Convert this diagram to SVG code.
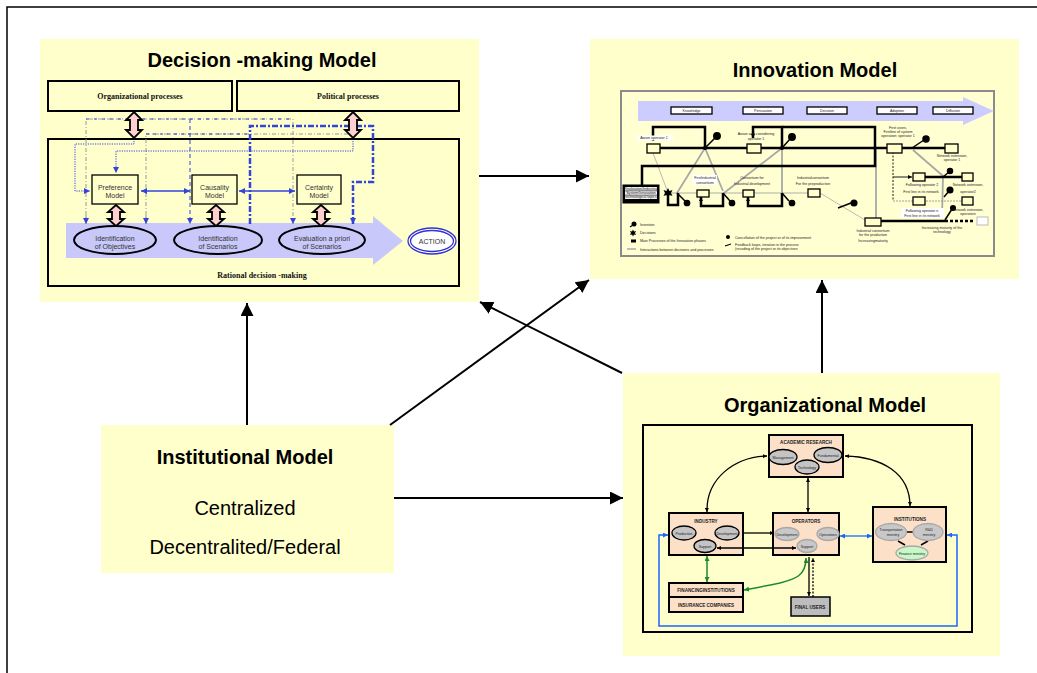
<svg xmlns="http://www.w3.org/2000/svg" width="1037" height="673" viewBox="0 0 1037 673">
<defs>
<style>
.yellow{fill:#ffffcc}
.frame{fill:#ffffcc;stroke:#000;stroke-width:2}
.title{font-family:"Liberation Sans",Arial,sans-serif;font-weight:bold;font-size:20px;text-anchor:middle;fill:#000}
.big{font-family:"Liberation Sans",Arial,sans-serif;font-size:20px;text-anchor:middle;fill:#000}
.serif{font-family:"Liberation Serif","Times New Roman",serif;font-weight:bold;font-size:8px;text-anchor:middle;fill:#111}
.sm{font-family:"Liberation Sans",Arial,sans-serif;font-size:7px;text-anchor:middle;fill:#333}
.tiny{font-family:"Liberation Sans",Arial,sans-serif;font-size:3.6px;text-anchor:middle;fill:#222}
.tinyl{font-family:"Liberation Sans",Arial,sans-serif;font-size:3.6px;fill:#222}
.ob{font-family:"Liberation Sans",Arial,sans-serif;font-weight:bold;font-size:4.6px;text-anchor:middle;fill:#222}
.pink{fill:#ffd0d0;stroke:#000;stroke-width:1.8}
.conn{fill:none;stroke:#000;stroke-width:2}
.pbox{fill:#fde0c8;stroke:#000;stroke-width:2}
.gell{fill:#c4c4c4;stroke:#000;stroke-width:1.3}
.lell{fill:#c8c8c8;stroke:#a8a8a8;stroke-width:1.3}
.ibox{fill:#ffffcc;stroke:#000;stroke-width:1.3}
.thick{fill:none;stroke:#000;stroke-width:2.5}
.gl{fill:none;stroke:#a8a8a8;stroke-width:1.8}
</style>
<marker id="ah" viewBox="0 0 10 10" refX="10" refY="5" markerWidth="13" markerHeight="13" markerUnits="userSpaceOnUse" orient="auto-start-reverse"><path d="M0,0 L10,5 L0,10 z" fill="#000"/></marker>
<marker id="sa" viewBox="0 0 10 10" refX="10" refY="5" markerWidth="4" markerHeight="4" markerUnits="userSpaceOnUse" orient="auto-start-reverse"><path d="M0,0 L10,5 L0,10 z" fill="#000"/></marker>
<marker id="sb" viewBox="0 0 10 10" refX="10" refY="5" markerWidth="6" markerHeight="6" markerUnits="userSpaceOnUse" orient="auto-start-reverse"><path d="M0,0 L10,5 L0,10 z" fill="#3344dd"/></marker>
<marker id="sbl" viewBox="0 0 10 10" refX="10" refY="5" markerWidth="5" markerHeight="5" markerUnits="userSpaceOnUse" orient="auto-start-reverse"><path d="M0,0 L10,5 L0,10 z" fill="#1a66ff"/></marker>
<marker id="sg" viewBox="0 0 10 10" refX="10" refY="5" markerWidth="5" markerHeight="5" markerUnits="userSpaceOnUse" orient="auto-start-reverse"><path d="M0,0 L10,5 L0,10 z" fill="#1a8a2a"/></marker>
</defs>
<rect width="1037" height="673" fill="#fff"/>
<path d="M7,673 V7 H1037" fill="none" stroke="#000" stroke-width="1.5"/>

<g id="decision-model">
<rect x="40" y="39" width="439" height="263" class="yellow"/>
<text x="262" y="67" class="title">Decision -making Model</text>
<rect x="48" y="81" width="184" height="30" class="frame"/>
<text x="140" y="99" class="serif">Organizational processes</text>
<rect x="237" y="81" width="222" height="30" class="frame"/>
<text x="348" y="99" class="serif">Political processes</text>
<rect x="48" y="139" width="411" height="147" class="frame"/>
<path d="M66,223 H373 V216 L403,241 L373,265 V258 H66 Z" fill="#c8c8fa"/>
<g fill="none">
<path d="M86,224 V119 H293 V224" stroke="#999" stroke-width="1" stroke-dasharray="4,2,1,2" marker-end="url(#sb)"/>
<path d="M86,119 H293" stroke="#3344dd" stroke-width="1" stroke-dasharray="3,5"/>
<path d="M190,119 V224" stroke="#3344dd" stroke-width="1" stroke-dasharray="4,3" marker-end="url(#sb)"/>
<path d="M146,224 V134 H352" stroke="#999" stroke-width="1" stroke-dasharray="4,2,1,2"/>
<path d="M146,134 H250" stroke="#3344dd" stroke-width="1" stroke-dasharray="3,4"/>
<path d="M146,215 V224" stroke="#999" stroke-width="1" marker-end="url(#sb)"/>
<path d="M86,215 V224" stroke="#999" stroke-width="1" marker-end="url(#sb)"/>
<path d="M250,224 V126 H373 V182 H353 V224" stroke="#3344dd" stroke-width="2.5" stroke-dasharray="6,2,2,2" marker-end="url(#sb)"/>
<path d="M134,141 V144 H75 V191 H90" stroke="#3344dd" stroke-width="1" stroke-dasharray="1.2,1.2" marker-end="url(#sb)"/>
<path d="M353,141 V151 H116 V173" stroke="#3344dd" stroke-width="1" stroke-dasharray="1.2,1.2" marker-end="url(#sb)"/>
<path d="M141,191 H190" stroke="#3344dd" stroke-width="1.6" marker-start="url(#sb)" marker-end="url(#sb)"/>
<path d="M239,191 H295" stroke="#3344dd" stroke-width="1.6" marker-start="url(#sb)" marker-end="url(#sb)"/>
</g>
<path class="pink" d="M134,112 L142,120 L138,120 L138,130 L142,130 L134,138 L126,130 L130,130 L130,120 L126,120 Z"/>
<path class="pink" d="M353,112 L361,120 L357,120 L357,130 L361,130 L353,138 L345,130 L349,130 L349,120 L345,120 Z"/>
<path class="pink" d="M116,205 L124,212 L120,212 L120,219 L124,219 L116,226 L108,219 L112,219 L112,212 L108,212 Z"/>
<path class="pink" d="M216,205 L224,212 L220,212 L220,219 L224,219 L216,226 L208,219 L212,219 L212,212 L208,212 Z"/>
<path class="pink" d="M321,205 L329,212 L325,212 L325,219 L329,219 L321,226 L313,219 L317,219 L317,212 L313,212 Z"/>
<rect x="92" y="175" width="46" height="29" class="ibox" stroke-width="1.6"/>
<text x="115" y="189.5" class="sm">Preference</text><text x="115" y="197.5" class="sm">Model</text>
<rect x="192" y="175" width="45" height="29" class="ibox" stroke-width="1.6"/>
<text x="214.5" y="189.5" class="sm">Causality</text><text x="214.5" y="197.5" class="sm">Model</text>
<rect x="297" y="175" width="44" height="29" class="ibox" stroke-width="1.6"/>
<text x="319" y="189.5" class="sm">Certainty</text><text x="319" y="197.5" class="sm">Model</text>
<ellipse cx="115" cy="240" rx="41" ry="14" fill="#c8c8fa" stroke="#000" stroke-width="2"/>
<text x="115" y="240.5" class="sm">Identification</text><text x="115" y="249" class="sm">of  Objectives</text>
<ellipse cx="218" cy="240" rx="44" ry="14" fill="#c8c8fa" stroke="#000" stroke-width="2"/>
<text x="218" y="240.5" class="sm">Identification</text><text x="218" y="249" class="sm">of  Scenarios</text>
<ellipse cx="322" cy="240" rx="43" ry="14" fill="#c8c8fa" stroke="#000" stroke-width="2"/>
<text x="322" y="240.5" class="sm">Evaluation a priori</text><text x="322" y="249" class="sm">of Scenarios</text>
<ellipse cx="432" cy="241" rx="24" ry="13" fill="#fff" stroke="#3333cc" stroke-width="1.3"/>
<ellipse cx="432" cy="241" rx="21.5" ry="10.5" fill="none" stroke="#3333cc" stroke-width="1.3"/>
<text x="432" y="244" class="sm">ACTION</text>
<text x="262" y="278" class="serif" font-size="7.5">Rational decision -making</text>
</g>

<g id="innovation-model">
<rect x="590" y="39" width="429" height="240" class="yellow"/>
<text x="815" y="77" class="title" font-size="19.5">Innovation Model</text>
<rect x="621" y="91" width="373" height="165" fill="#ffffd2" stroke="#8a8a8a" stroke-width="2"/>
<path d="M638,101 H963 V97 L994,111 L963,125 V121 H638 Z" fill="#ccccff"/>
<g fill="#fff" stroke="#000" stroke-width="1.3">
<rect x="671" y="107" width="41" height="7"/><rect x="743" y="107" width="40" height="7"/><rect x="807" y="107" width="40" height="7"/><rect x="877" y="107" width="40" height="7"/><rect x="933" y="107" width="40" height="7"/>
</g>
<text x="691.5" y="111.8" class="tiny" font-size="3">Knowledge</text>
<text x="763" y="111.8" class="tiny" font-size="3">Persuasion</text>
<text x="827" y="111.8" class="tiny" font-size="3">Decision</text>
<text x="897" y="111.8" class="tiny" font-size="3">Adoption</text>
<text x="953" y="111.8" class="tiny" font-size="3">Diffusion</text>
<g class="gl">
<path d="M705,148 L677,193 M705,148 L723,191 M782,148 L724,193 M782,148 V193 M876,148 V218 M913,150 L943,176 L942,218"/>
<path d="M653,153 L667,190 M820,193 L865,220" stroke-width="0.8"/>
</g>
<path d="M660,148 H945" class="thick" stroke-width="3"/>
<path d="M653,141 V127 H705 V148" class="thick" marker-start="url(#sa)"/>
<path d="M753,138 V127 H782 V148" class="thick" marker-start="url(#sa)"/>
<path d="M782,127 H875 V166 H642 V185" class="thick"/>
<path d="M668,193 H808" fill="none" stroke="#999" stroke-width="0.8"/>
<path d="M668,193 V205 H678 V193" class="thick" stroke-width="2"/>
<path d="M701,197 V206 H723 V193" class="thick" stroke-width="2" marker-start="url(#sa)"/>
<path d="M748,197 V206 H782 V193" class="thick" stroke-width="2" marker-start="url(#sa)"/>
<path d="M881,221 H945" class="thick" stroke-width="3"/>
<path d="M945,221 H973" class="thick" stroke-width="2.5" stroke-dasharray="3,2"/>
<rect x="977" y="217" width="11" height="8" fill="#fff" stroke="#bbb" stroke-width="1"/>
<path d="M893,152 V201" fill="none" stroke="#000" stroke-width="0.9" stroke-dasharray="2,1.5"/>
<path d="M893,177 H912" fill="none" stroke="#000" stroke-width="0.9" marker-end="url(#sa)"/>
<path d="M893,201 H962" fill="none" stroke="#888" stroke-width="0.8" stroke-dasharray="2,1"/>
<path d="M925,177 H962" class="thick" stroke-width="2.5"/>
<g fill="#000" stroke="#000" stroke-width="1.5">
<path d="M705,148 L715,138 M782,148 L790,139 M912,148 L924,140 M677,193 L685,201 M723,193 L730,201 M782,193 L789,201 M838,208 L851,203 M943,177 L949,172 M944,197 L949,191 M945,220 L952,209" fill="none"/>
<circle cx="717" cy="136" r="3.2"/><circle cx="792" cy="137" r="3.2"/><circle cx="926" cy="139" r="3"/>
<circle cx="687" cy="203" r="2.6"/><circle cx="732" cy="203" r="2.6"/><circle cx="792" cy="203" r="2.6"/><circle cx="854" cy="203" r="2.8"/>
<circle cx="950" cy="171" r="2.5"/><circle cx="950" cy="190" r="2.8"/><circle cx="953" cy="208" r="2.3"/>
</g>
<g fill="#000">
<path d="M668,188 l1.5,3 l3,-1 l-1.5,3 l1.5,3 l-3,-1 l-1.5,3 l-1.5,-3 l-3,1 l1.5,-3 l-1.5,-3 l3,1 z"/>
<circle cx="705" cy="148" r="2"/><circle cx="782" cy="148" r="2"/>
</g>
<g class="ibox">
<rect x="647" y="144" width="13" height="9"/><rect x="747" y="144" width="14" height="9"/><rect x="887" y="144" width="15" height="9"/><rect x="945" y="144" width="13" height="9"/>
<rect x="697" y="190" width="12" height="7"/><rect x="743" y="190" width="11" height="7"/><rect x="808" y="189" width="12" height="8"/>
<rect x="865" y="218" width="16" height="8"/>
<rect x="913" y="173" width="12" height="8"/><rect x="962" y="173" width="11" height="8"/>
<rect x="913" y="197" width="12" height="8"/><rect x="962" y="197" width="11" height="8"/>
</g>
<rect x="623" y="185" width="36" height="18" fill="#000" stroke="#000" stroke-width="1"/>
<rect x="625" y="187" width="32" height="3.6" fill="#f4f4f4"/>
<rect x="625" y="191.2" width="32" height="3.6" fill="#f4f4f4"/>
<rect x="625" y="195.4" width="32" height="3.6" fill="#f4f4f4"/>
<text x="641" y="189.8" class="tiny" font-size="2.8">Realization/Industrial</text>
<text x="641" y="194" class="tiny" font-size="2.8">System/Innovation</text>
<text x="641" y="198.2" class="tiny" font-size="2.8">technological topics</text>
<rect x="637" y="135.5" width="36" height="5" fill="#fff"/>
<text x="654" y="139.3" class="tiny">Aware operator 1</text>
<text x="756" y="135" class="tiny">Aware and considering</text><text x="756" y="139.5" class="tiny">operator  1</text>
<rect x="692" y="175" width="25" height="10" fill="#fff"/>
<text x="705" y="179" class="tiny">FirstIndustrial</text><text x="705" y="184" class="tiny">consortium</text>
<text x="752" y="179" class="tiny">Consortium for</text><text x="752" y="184.5" class="tiny">Industrial development</text>
<text x="813" y="179" class="tiny">Industrialconsortium</text><text x="813" y="184.5" class="tiny">For the preproduction</text>
<text x="873" y="231.5" class="tiny">Industrial consortium</text><text x="873" y="235.5" class="tiny">for the production</text>
<text x="873" y="241.5" class="tiny">Increasingmaturity</text>
<text x="898" y="129" class="tiny">First users,</text><text x="898" y="133" class="tiny">Firstline of system</text><text x="898" y="137" class="tiny">operation; operator 1</text>
<text x="952" y="157" class="tiny">Network extension,</text><text x="952" y="161" class="tiny">operator  1</text>
<text x="922" y="185.5" class="tiny">Following  operator 2</text><text x="921" y="192.5" class="tiny">First line in its network</text>
<text x="968" y="185.5" class="tiny">Network extension,</text><text x="968" y="192.5" class="tiny">operator2</text>
<rect x="901" y="208" width="43" height="10" fill="#fff"/>
<text x="922" y="212" class="tiny">Following operator n</text><text x="922" y="216.5" class="tiny">First line in its network</text>
<text x="968" y="210.5" class="tiny">Network extension,</text><text x="968" y="214.5" class="tiny">operatorn</text>
<text x="942" y="229" class="tiny">Increasing maturity of the</text><text x="942" y="233" class="tiny">technology</text>
<g fill="#000">
<circle cx="634" cy="224" r="2.5"/><path d="M630,227 L633,225" stroke="#000" stroke-width="1.2"/>
<path d="M633,229.5 l1,2 l2,-0.5 l-1,2 l1,2 l-2,-0.5 l-1,2 l-1,-2 l-2,0.5 l1,-2 l-1,-2 l2,0.5 z"/>
<rect x="631" y="239.5" width="5" height="3"/>
<circle cx="728" cy="237" r="2"/>
<path d="M725,246 L731,244" stroke="#000" stroke-width="1.2"/>
</g>
<path d="M627,249 H636" stroke="#aaa" stroke-width="1.5"/>
<text x="640" y="225.5" class="tinyl">Invention</text>
<text x="640" y="233.5" class="tinyl">Decisions</text>
<text x="640" y="242" class="tinyl">Main Processes of the Innovation phases</text>
<text x="640" y="250.5" class="tinyl">Interactions between decisions and processes</text>
<text x="735" y="238.5" class="tinyl">Cancellation of the project or of its improvement</text>
<text x="735" y="245.5" class="tinyl">Feedback loops, iteration in the process</text>
<text x="735" y="249.5" class="tinyl">(recoding of the project or its objectives</text>
</g>

<g id="organizational-model">
<rect x="623" y="373" width="377" height="283" class="yellow"/>
<text x="825" y="412" class="title">Organizational Model</text>
<rect x="643" y="425" width="329" height="207" class="frame"/>
<rect x="769" y="435" width="74" height="42" class="pbox"/>
<text x="806" y="444" class="ob" font-size="4">ACADEMIC RESEARCH</text>
<ellipse cx="783" cy="457" rx="14" ry="7.5" class="gell"/><text x="783" y="458.5" class="tiny" font-size="3">Management</text>
<ellipse cx="828" cy="455" rx="14" ry="7.5" class="gell"/><text x="828" y="456.5" class="tiny" font-size="3">Fundamental</text>
<ellipse cx="807" cy="467" rx="12" ry="7" class="gell"/><text x="807" y="468.5" class="tiny" font-size="3">Technology</text>
<rect x="669" y="513" width="74" height="42" class="pbox"/>
<text x="706" y="523" class="ob" font-size="4">INDUSTRY</text>
<ellipse cx="684" cy="533" rx="12" ry="7" class="gell"/><text x="684" y="534.5" class="tiny" font-size="3">Production</text>
<ellipse cx="727" cy="533" rx="12" ry="7" class="gell"/><text x="727" y="534.5" class="tiny" font-size="3">Development</text>
<ellipse cx="705" cy="546" rx="11" ry="6.5" class="gell"/><text x="705" y="547.5" class="tiny" font-size="3">Support</text>
<rect x="773" y="513" width="66" height="42" class="pbox"/>
<text x="806" y="523" class="ob">OPERATORS</text>
<ellipse cx="787" cy="534" rx="12" ry="6.5" class="lell"/><text x="787" y="535.5" class="tiny" font-size="3">Development</text>
<ellipse cx="828" cy="534" rx="11" ry="6.5" class="lell"/><text x="828" y="535.5" class="tiny" font-size="3">Operations</text>
<ellipse cx="807" cy="546" rx="10" ry="6.5" class="lell"/><text x="807" y="547.5" class="tiny" font-size="3">Support</text>
<rect x="873" y="507" width="73" height="55" class="pbox"/>
<text x="910" y="521" class="ob" font-size="4.2">INSTITUTIONS</text>
<path d="M904,532 H913 M898,541 L905,545 M921,545 L928,541" stroke="#000" stroke-width="1.5"/>
<ellipse cx="891" cy="532" rx="15.5" ry="8.5" class="lell"/>
<text x="891" y="530.5" class="tiny" font-size="3.3">Transportation</text><text x="893" y="535.5" class="tiny" font-size="3.3">ministry</text>
<ellipse cx="928" cy="532" rx="15" ry="8.5" class="lell"/>
<text x="929" y="530.5" class="tiny" font-size="3.3">R&amp;D</text><text x="929" y="535.5" class="tiny" font-size="3.3">ministry</text>
<ellipse cx="912" cy="553" rx="16" ry="7" fill="#c8f7c8" stroke="#a8a8a8" stroke-width="1.3"/>
<text x="912" y="554.5" class="tiny" font-size="3.3">Finance ministry</text>
<rect x="669" y="583" width="74" height="14" class="pbox"/>
<text x="706" y="591.8" class="ob" font-size="4">FINANCINGINSTITUTIONS</text>
<rect x="669" y="597" width="74" height="15" class="pbox"/>
<text x="706" y="606.5" class="ob" font-size="4">INSURANCE COMPANIES</text>
<rect x="791" y="597" width="39" height="19" fill="#bdbdbd" stroke="#000" stroke-width="1.5"/>
<text x="810" y="609" class="ob" font-size="4.8">FINAL USERS</text>
</g>

<g id="institutional-model">
<rect x="101" y="425" width="293" height="148" class="yellow"/>
<text x="245" y="464" class="title">Institutional Model</text>
<text x="245" y="515" class="big">Centralized</text>
<text x="245" y="554" class="big">Decentralited/Federal</text>
</g>

<g id="connectors">
<path d="M247,425 V303" class="conn" marker-end="url(#ah)"/>
<path d="M390,425 L589,280" class="conn" marker-end="url(#ah)"/>
<path d="M622,373 L480,302" class="conn" marker-end="url(#ah)"/>
<path d="M394,498 H623" class="conn" marker-end="url(#ah)"/>
<path d="M479,176 H589" class="conn" marker-end="url(#ah)"/>
<path d="M822,373 V280" class="conn" marker-end="url(#ah)"/>
<g fill="none" stroke-width="1.3">
<path d="M707,512 C706,478 735,457 767,456" stroke="#000" marker-start="url(#sa)" marker-end="url(#sa)"/>
<path d="M845,456 C882,457 910,473 910,506" stroke="#000" marker-start="url(#sa)" marker-end="url(#sa)"/>
<path d="M808,478 V512" stroke="#000" marker-start="url(#sa)" marker-end="url(#sa)"/>
<path d="M744,533 H774" stroke="#000" marker-end="url(#sa)"/>
<path d="M717,548 H796" stroke="#000" marker-start="url(#sa)" marker-end="url(#sa)"/>
<path d="M809,557 V596" stroke="#000" marker-end="url(#sa)"/>
<path d="M813,597 V558" stroke="#000" stroke-dasharray="2,1.5" marker-end="url(#sa)"/>
<path d="M840,536 H872" stroke="#1a66ff" marker-start="url(#sbl)" marker-end="url(#sbl)"/>
<path d="M668,535 H659 V626 H957 V535 H947" stroke="#1a66ff" stroke-width="1.5" marker-start="url(#sbl)" marker-end="url(#sbl)"/>
<path d="M707,556 V582" stroke="#1a8a2a" stroke-width="1.5" marker-start="url(#sg)" marker-end="url(#sg)"/>
<path d="M806,558 C806,576 795,579 780,583 C765,586 755,588 744,590" stroke="#1a8a2a" stroke-width="1.5" marker-start="url(#sg)" marker-end="url(#sg)"/>
</g>
</g>
</svg>
